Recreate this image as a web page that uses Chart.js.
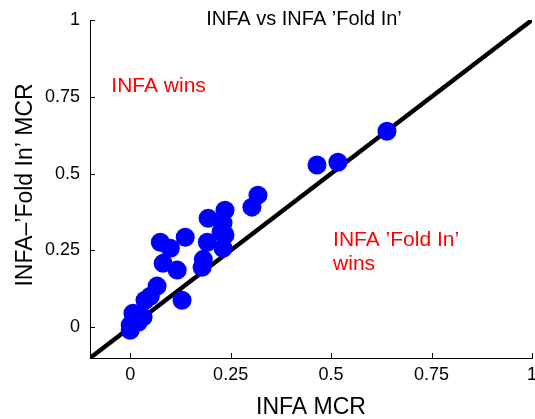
<!DOCTYPE html>
<html>
<head>
<meta charset="utf-8">
<script src="https://cdn.jsdelivr.net/npm/chart.js@4/dist/chart.umd.min.js"></script>
<style>
  html, body { margin: 0; padding: 0; background: #ffffff; }
  canvas { display: block; }
</style>
</head>
<body>
<canvas id="chart" width="535" height="419"></canvas>
<script>
// Misclassification rate per data set: plain INFA (x) against INFA 'Fold In' (y)
const infaMCR = [
  0.639, 0.517, 0.465, 0.318, 0.303, 0.236, 0.194, 0.231, 0.236, 0.226,
  0.192, 0.231, 0.137, 0.075, 0.100, 0.082, 0.117, 0.179, 0.182, 0.067,
  0.050, 0.037, 0.129, 0.007, 0.032, 0.000, 0.000, 0.020
];
const foldInMCR = [
  0.638, 0.537, 0.528, 0.430, 0.391, 0.381, 0.355, 0.339, 0.300, 0.310,
  0.277, 0.257, 0.293, 0.277, 0.257, 0.208, 0.186, 0.195, 0.221, 0.134,
  0.101, 0.088, 0.088, 0.046, 0.033, 0.007, -0.010, 0.016
];

// Axis range and tick marks (same on both axes)
const axisMin = -0.1;
const axisMax = 1;
const tickValues = [0, 0.25, 0.5, 0.75, 1];
const tickLabels = ['0', '0.25', '0.5', '0.75', '1'];

// Equal-performance reference line y = x
const diagonalEnds = [-0.1, 1];

const titleText = 'INFA vs INFA \u2019Fold In\u2019';
const xTitleText = 'INFA MCR';
const yTitleText = 'INFA\u2013\u2019Fold In\u2019 MCR';
const winnerNotes = [
  { lines: ['INFA wins'], x: -0.047, y: 0.765 },
  { lines: ['INFA \u2019Fold In\u2019', 'wins'], x: 0.505, y: 0.264 }
];

const FONT = '"Liberation Sans", Arial, Helvetica, sans-serif';

const points = infaMCR.map((v, i) => ({ x: v, y: foldInMCR[i] }));
const diagonal = diagonalEnds.map(v => ({ x: v, y: v }));

// Inward tick marks, titles and the red annotations
const decorations = {
  id: 'decorations',
  afterDraw(chart) {
    const ctx = chart.ctx;
    const xs = chart.scales.x;
    const ys = chart.scales.y;
    const area = chart.chartArea;
    ctx.save();

    // tick marks pointing into the plot
    ctx.strokeStyle = '#000000';
    ctx.lineWidth = 1;
    const tickLen = 5;
    ctx.beginPath();
    tickValues.forEach(v => {
      const px = Math.round(xs.getPixelForValue(v)) + 0.5;
      ctx.moveTo(px, area.bottom);
      ctx.lineTo(px, area.bottom - tickLen);
      const py = Math.round(ys.getPixelForValue(v)) + 0.5;
      ctx.moveTo(area.left, py);
      ctx.lineTo(area.left + tickLen, py);
    });
    ctx.stroke();

    // chart title
    ctx.fillStyle = '#000000';
    ctx.textAlign = 'center';
    ctx.textBaseline = 'alphabetic';
    ctx.font = '20px ' + FONT;
    ctx.fillText(titleText, 304, 25);

    // axis titles
    ctx.font = '23px ' + FONT;
    ctx.fillText(xTitleText, (area.left + area.right) / 2, 414);
    ctx.save();
    ctx.translate(32, 185);
    ctx.rotate(-Math.PI / 2);
    ctx.fillText(yTitleText, 0, 0);
    ctx.restore();

    // red annotations
    ctx.fillStyle = '#ff0000';
    ctx.textAlign = 'left';
    ctx.font = '21px ' + FONT;
    winnerNotes.forEach(note => {
      const px = xs.getPixelForValue(note.x);
      const py = ys.getPixelForValue(note.y);
      note.lines.forEach((line, k) => ctx.fillText(line, px, py + k * 24));
    });

    ctx.restore();
  }
};

const setTicks = scale => {
  scale.ticks = tickValues.map(v => ({ value: v }));
};

new Chart(document.getElementById('chart'), {
  data: {
    datasets: [
      {
        type: 'scatter',
        data: points,
        backgroundColor: '#0000ff',
        borderWidth: 0,
        pointRadius: 9.5,
        pointHoverRadius: 9.5,
        order: 0
      },
      {
        type: 'line',
        data: diagonal,
        borderColor: '#000000',
        borderWidth: 4.5,
        pointRadius: 0,
        fill: false,
        order: 1
      }
    ]
  },
  options: {
    responsive: false,
    animation: false,
    devicePixelRatio: 1,
    layout: { autoPadding: false, padding: { left: 0, right: 3, top: 20, bottom: 0 } },
    plugins: {
      legend: { display: false },
      tooltip: { enabled: false },
      title: { display: false }
    },
    scales: {
      x: {
        type: 'linear',
        position: 'bottom',
        min: axisMin,
        max: axisMax,
        afterBuildTicks: setTicks,
        afterFit: s => { s.height = 61; s.paddingLeft = 0; s.paddingRight = 0; },
        grid: { display: false, drawTicks: false },
        border: { display: true, color: '#000000', width: 1 },
        ticks: {
          padding: 6,
          color: '#000000',
          font: { family: FONT, size: 18 },
          maxRotation: 0,
          callback: (v) => tickLabels[tickValues.indexOf(v)]
        }
      },
      y: {
        type: 'linear',
        position: 'left',
        min: axisMin,
        max: axisMax,
        afterBuildTicks: setTicks,
        afterFit: s => { s.width = 90; s.paddingTop = 0; s.paddingBottom = 0; },
        grid: { display: false, drawTicks: false },
        border: { display: true, color: '#000000', width: 1 },
        ticks: {
          padding: 10,
          color: '#000000',
          font: { family: FONT, size: 18 },
          callback: (v) => tickLabels[tickValues.indexOf(v)]
        }
      }
    }
  },
  plugins: [decorations]
});
</script>
</body>
</html>
